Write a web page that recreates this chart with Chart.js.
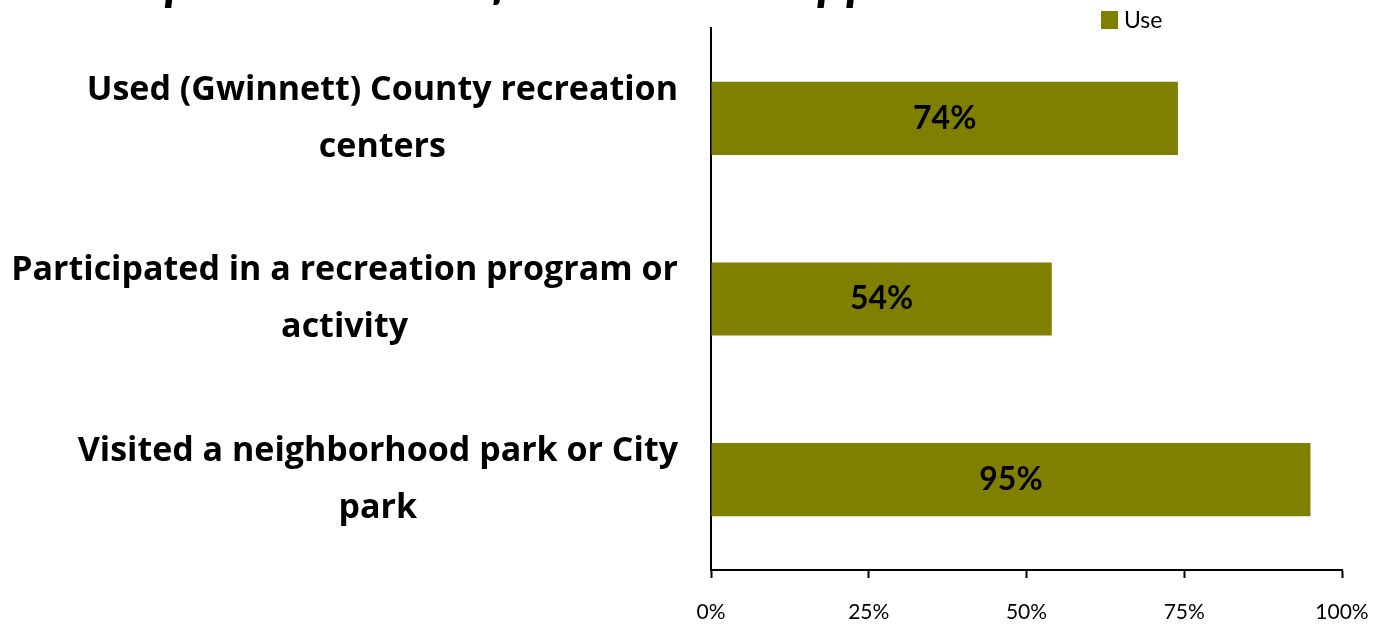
<!DOCTYPE html>
<html>
<head>
<meta charset="utf-8">
<script src="https://cdn.jsdelivr.net/npm/chart.js@4.4.1/dist/chart.umd.min.js"></script>
<style>
  html, body { margin: 0; padding: 0; background: #fff; }
  #wrap { width: 1377px; height: 627px; }
</style>
</head>
<body>
<div id="wrap"><canvas id="useChart" width="1377" height="627"></canvas></div>
<script>
// data
const categories = [
  ['Used (Gwinnett) County recreation', 'centers'],
  ['Participated in a recreation program or', 'activity'],
  ['Visited a neighborhood park or City', 'park']
];
const useValues = [74, 54, 95];
const xTicks = [0, 25, 50, 75, 100];
const seriesName = 'Use';
const titleText = 'Respondent Use of Recreation Opportunities';

const OLIVE = '#808000';
const FONT = 'Lato, "Open Sans", sans-serif';
const LABEL_FONT = '"Open Sans", Lato, sans-serif';

const ctx = document.getElementById('useChart').getContext('2d');

// title cut off at the top, only descenders show
const cutTitle = {
  id: 'cutTitle',
  beforeDraw(chart) {
    const c = chart.ctx;
    c.save();
    c.font = 'italic bold 54px ' + FONT;
    c.fillStyle = '#000';
    c.textAlign = 'left';
    c.textBaseline = 'alphabetic';
    c.fillText(titleText, 86, -1);
    c.restore();
  }
};

// category labels: block right-aligned, lines centred in the block
const yLabels = {
  id: 'yLabels',
  afterDraw(chart) {
    const c = chart.ctx;
    const y = chart.scales.y;
    c.save();
    c.font = 'bold 34px ' + LABEL_FONT;
    c.fillStyle = '#000';
    c.textAlign = 'center';
    c.textBaseline = 'middle';
    const right = 678;
    const lineH = 57;
    categories.forEach((lines, i) => {
      const w = Math.max(...lines.map(l => c.measureText(l).width));
      const cx = right - w / 2;
      const cy = y.getPixelForValue(i);
      const top = cy - (lines.length - 1) * lineH / 2;
      lines.forEach((l, j) => c.fillText(l, cx, top + j * lineH));
    });
    c.restore();
  }
};

// value labels in the middle of each bar
const barLabels = {
  id: 'barLabels',
  afterDatasetsDraw(chart) {
    const c = chart.ctx;
    const meta = chart.getDatasetMeta(0);
    c.save();
    c.font = 'bold 32px ' + FONT;
    c.fillStyle = '#000';
    c.textAlign = 'center';
    c.textBaseline = 'middle';
    meta.data.forEach((bar, i) => {
      const p = bar.getProps(['x', 'y', 'base'], true);
      c.fillText(useValues[i] + '%', (p.x + p.base) / 2, p.y);
    });
    c.restore();
  }
};

// small legend top right
const miniLegend = {
  id: 'miniLegend',
  afterDraw(chart) {
    const c = chart.ctx;
    c.save();
    c.fillStyle = OLIVE;
    c.fillRect(1101, 11, 17, 18);
    c.fillStyle = '#000';
    c.font = '23px ' + FONT;
    c.textAlign = 'left';
    c.textBaseline = 'middle';
    c.fillText(chart.data.datasets[0].label, 1124, 21);
    c.restore();
  }
};

new Chart(ctx, {
  type: 'bar',
  data: {
    labels: categories,
    datasets: [{
      label: seriesName,
      data: useValues,
      backgroundColor: OLIVE,
      borderWidth: 0,
      barPercentage: 0.9,
      categoryPercentage: 0.45
    }]
  },
  options: {
    indexAxis: 'y',
    responsive: false,
    animation: false,
    layout: { padding: { top: 28, right: 35, left: 0, bottom: 0 } },
    plugins: {
      legend: { display: false },
      tooltip: { enabled: false }
    },
    scales: {
      x: {
        min: 0,
        max: 100,
        afterBuildTicks(scale) {
          scale.ticks = xTicks.map(v => ({ value: v }));
        },
        afterFit(scale) {
          scale.height = 57;
          scale.paddingLeft = 0;
          scale.paddingRight = 0;
        },
        border: { display: true, color: '#000', width: 2 },
        grid: { drawOnChartArea: false, drawTicks: true, tickLength: 8, color: '#000', tickColor: '#000', tickWidth: 2 },
        ticks: {
          padding: 22,
          color: '#000',
          font: { family: FONT, size: 21 },
          callback: v => v + '%'
        }
      },
      y: {
        afterFit(scale) { scale.width = 711; },
        border: { display: true, color: '#000', width: 2 },
        grid: { display: false },
        ticks: { display: false }
      }
    }
  },
  plugins: [cutTitle, yLabels, barLabels, miniLegend]
});
</script>
</body>
</html>
